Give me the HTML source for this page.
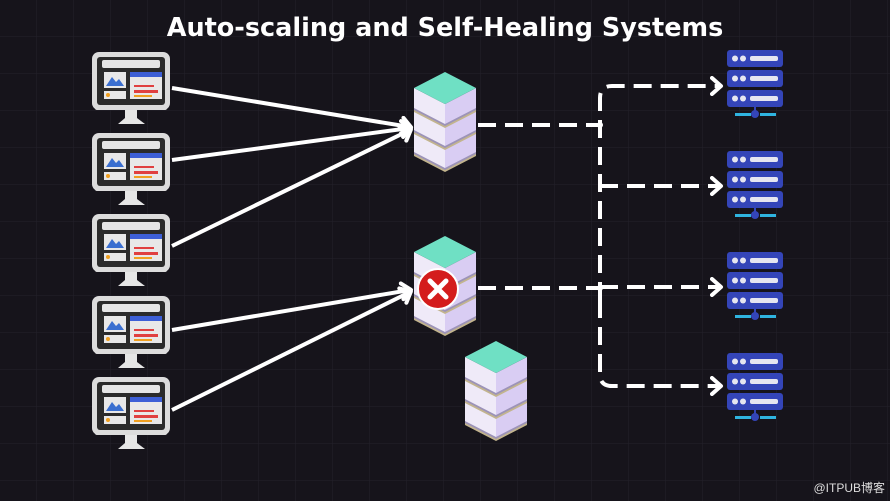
<!DOCTYPE html>
<html><head><meta charset="utf-8"><style>
html,body{margin:0;padding:0;background:#16141b;}
svg{display:block}
</style></head><body>
<svg width="890" height="501" viewBox="0 0 890 501" xmlns="http://www.w3.org/2000/svg">
<defs>
<pattern id="g" width="37" height="37" patternUnits="userSpaceOnUse">
<path d="M37 0V37H0" fill="none" stroke="#24222b" stroke-width="1"/>
</pattern>
<g id="mon">
<rect x="0" y="0" width="78" height="58" rx="7" fill="#dcdcdc"/>
<rect x="5" y="5" width="68" height="48" rx="3" fill="#2b2b2b"/>
<rect x="10" y="8" width="58" height="8" rx="2" fill="#e6e6e6"/>
<rect x="12" y="20" width="22" height="16" fill="#e8e8e8"/>
<path d="M14 34l6-9 4 5 3-3 5 7z" fill="#3a6fd0"/>
<rect x="12" y="39" width="22" height="8" fill="#e8e8e8"/>
<circle cx="16" cy="43" r="2" fill="#f0a020"/>
<rect x="38" y="20" width="32" height="27" fill="#e8e8e8"/>
<rect x="38" y="20" width="32" height="5" fill="#3d5fd6"/>
<rect x="42" y="33" width="20" height="2" fill="#e04040"/>
<rect x="42" y="38" width="24" height="3" fill="#e04040"/>
<rect x="42" y="43" width="18" height="2" fill="#f0a020"/>
<rect x="3" y="53" width="72" height="5" rx="2" fill="#dcdcdc"/>
<path d="M33 58h12v8l8 6H26l7-6z" fill="#e6e6e6"/>
</g>
<g id="lay">
<path d="M0 0L31 16 31 38 0 22z" fill="#efeaf8"/>
<path d="M31 16L62 0 62 22 31 38z" fill="#d9cdf3"/>
<path d="M0 20L31 36 62 20v3L31 39 0 23z" fill="#9c93b8"/>
<path d="M0 22L31 38 62 22v2L31 40 0 24z" fill="#c2b48e"/>
</g>
<g id="stk">
<use href="#lay" y="60"/>
<use href="#lay" y="38"/>
<use href="#lay" y="16"/>
<path d="M0 16L31 0 62 16 31 32z" fill="#6fe0c4"/>
</g>
<g id="srv">
<rect x="0" y="0" width="56" height="17" rx="3" fill="#3445b8"/>
<circle cx="8" cy="8.5" r="3" fill="#e6e6f0"/><circle cx="16" cy="8.5" r="3" fill="#e6e6f0"/><rect x="23" y="6" width="28" height="5" rx="2" fill="#e6e6f0"/>
</g>
<g id="server"><use href="#srv" y="0"/><use href="#srv" y="20"/><use href="#srv" y="40"/>
<rect x="8" y="63" width="16" height="3" fill="#2fb4e0"/><rect x="33" y="63" width="16" height="3" fill="#2fb4e0"/><line x1="28" y1="57" x2="28" y2="62" stroke="#3445b8" stroke-width="2"/><circle cx="28" cy="64" r="4" fill="#3445b8"/></g>
<marker id="ah" markerWidth="16" markerHeight="20" refX="10" refY="10" orient="auto" markerUnits="userSpaceOnUse"><path d="M2 2L11 10 2 18" fill="none" stroke="#fff" stroke-width="4" stroke-linecap="round" stroke-linejoin="round"/></marker>
</defs>
<rect width="890" height="501" fill="#16141b"/>
<rect width="890" height="501" fill="url(#g)"/>
<text x="445" y="36" text-anchor="middle" font-family="DejaVu Sans, sans-serif" font-weight="bold" font-size="25.5" fill="#fff">Auto-scaling and Self-Healing Systems</text>
<g stroke="#fff" stroke-width="4" fill="none" marker-end="url(#ah)">
<line x1="172" y1="88" x2="410" y2="127"/>
<line x1="172" y1="160" x2="410" y2="128"/>
<line x1="172" y1="246" x2="410" y2="130"/>
<line x1="172" y1="330" x2="410" y2="290"/>
<line x1="172" y1="410" x2="410" y2="292"/>
</g>
<g stroke="#fff" stroke-width="4" fill="none" stroke-dasharray="18 9">
<line x1="478" y1="125" x2="598" y2="125"/>
<line x1="478" y1="288" x2="598" y2="288"/>
<path d="M600 300V374Q600 386 612 386H720" marker-end="url(#ah)"/>
<path d="M600 300V98Q600 86 612 86H720" marker-end="url(#ah)"/>
<line x1="600" y1="186" x2="720" y2="186" marker-end="url(#ah)"/>
<line x1="600" y1="287" x2="720" y2="287" marker-end="url(#ah)"/>
</g>
<circle cx="600" cy="125" r="3" fill="#fff"/><circle cx="600" cy="288" r="3" fill="#fff"/>
<use href="#mon" x="92" y="52"/>
<use href="#mon" x="92" y="133"/>
<use href="#mon" x="92" y="214"/>
<use href="#mon" x="92" y="296"/>
<use href="#mon" x="92" y="377"/>
<use href="#stk" x="414" y="72"/>
<use href="#stk" x="414" y="236"/>
<use href="#stk" x="465" y="341"/>
<circle cx="438" cy="289" r="20" fill="#d41c1c" stroke="#fff" stroke-width="2"/>
<path d="M430 281l16 16M446 281l-16 16" stroke="#fff" stroke-width="5" stroke-linecap="round"/>
<use href="#server" x="727" y="50"/>
<use href="#server" x="727" y="151"/>
<use href="#server" x="727" y="252"/>
<use href="#server" x="727" y="353"/>
<text x="885" y="492" text-anchor="end" font-family="Liberation Sans, Noto Sans CJK SC, sans-serif" font-size="12" fill="#ddd">@ITPUB博客</text>
</svg>
</body></html>
